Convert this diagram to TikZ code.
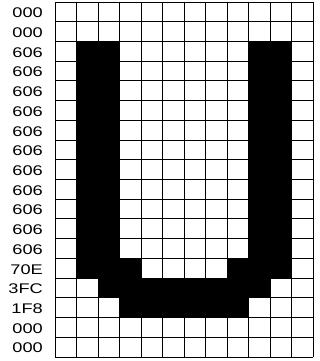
\documentclass[tikz,border=0pt]{standalone}
\usepackage{fontspec}
\setmainfont{Liberation Sans}
\begin{document}
\begin{tikzpicture}[x=1pt,y=-1pt,
  gridline/.style={line width=0.9pt,black},
  pix/.style={fill=black},
  hexlabel/.style={anchor=east,inner sep=0pt,font=\fontsize{14}{14}\selectfont}]
\useasboundingbox (0,0) rectangle (320,361);
\def\cw{21.5}
\def\ch{19.72}
\def\xo{55}
\def\yo{2}
% filled pixels: row, first col, last col
\foreach \r/\a/\b in {2/1/2,2/9/10,3/1/2,3/9/10,4/1/2,4/9/10,5/1/2,5/9/10,6/1/2,6/9/10,
  7/1/2,7/9/10,8/1/2,8/9/10,9/1/2,9/9/10,10/1/2,10/9/10,11/1/2,11/9/10,12/1/2,12/9/10,
  13/1/3,13/8/10,14/2/9,15/3/8}
  \fill[pix] ({\xo+\a*\cw},{\yo+\r*\ch}) rectangle ({\xo+(\b+1)*\cw},{\yo+(\r+1)*\ch});
% grid lines
\foreach \c in {0,...,12}
  \draw[gridline] ({\xo+\c*\cw},\yo) -- ({\xo+\c*\cw},{\yo+18*\ch});
\foreach \r in {0,...,18}
  \draw[gridline] (\xo,{\yo+\r*\ch}) -- ({\xo+12*\cw},{\yo+\r*\ch});
% labels
\foreach \t [count=\i from 0] in {000,000,606,606,606,606,606,606,606,606,606,606,606,70E,3FC,1F8,000,000}
  \node[hexlabel] (l\i) at (43,{\yo+(\i+0.5)*\ch+1}) {\scalebox{1.3}[1]{\t}};
\end{tikzpicture}
\end{document}
